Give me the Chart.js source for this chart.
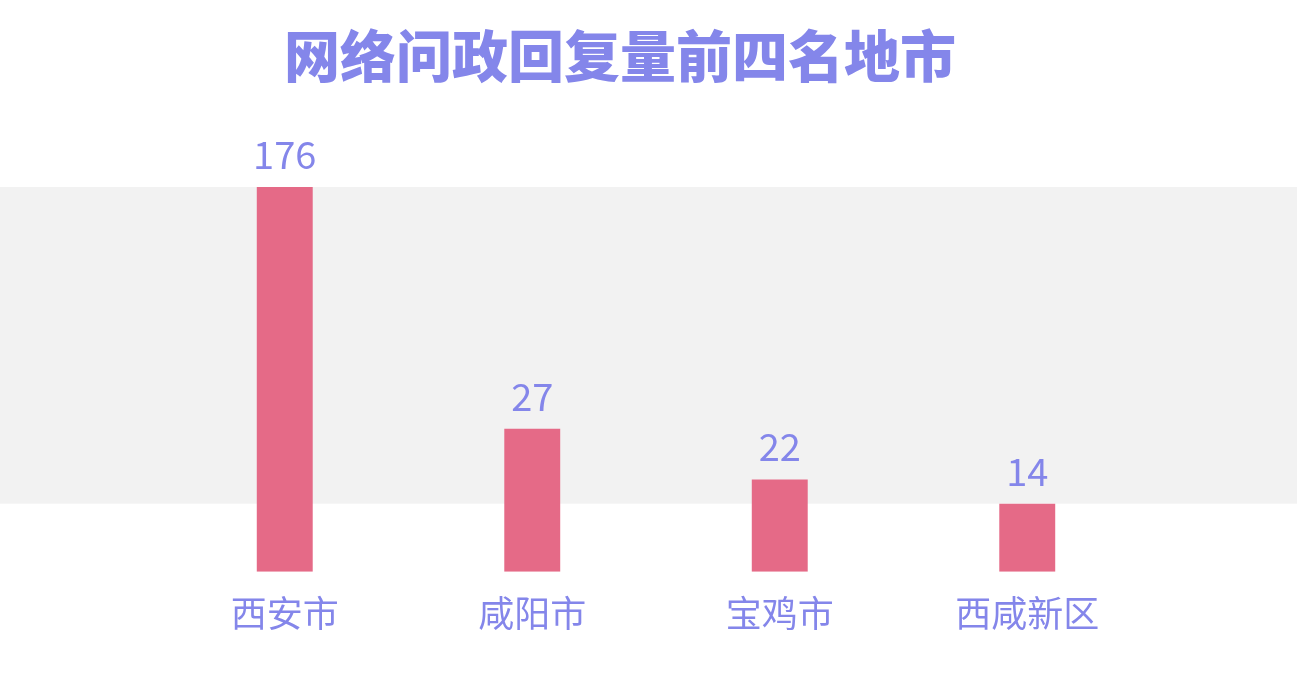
<!DOCTYPE html>
<html>
<head>
<meta charset="utf-8">
<script src="https://cdn.jsdelivr.net/npm/chart.js@4.4.1/dist/chart.umd.min.js"></script>
<style>
html,body{margin:0;padding:0;background:#fff;}
#wrap{width:1297px;height:683px;position:relative;}
</style>
</head>
<body>
<div id="wrap"><canvas id="c" width="1297" height="683"></canvas></div>
<script>
const titleText = '网络问政回复量前四名地市';
const categories = ['西安市', '咸阳市', '宝鸡市', '西咸新区'];
const values = [176, 27, 22, 14];
// relative bar lengths as drawn in the picture (bars are not drawn to scale)
const barLengths = [100, 37.2, 24.0, 17.7];

const TEXT = '#8486ea';
const BAR = '#e56a87';
const BAND = '#f2f2f2';
const FONT = '"Noto Sans CJK SC", "Noto Sans", sans-serif';

const bgBand = {
  id: 'bgBand',
  beforeDraw(chart) {
    const ctx = chart.ctx, y = chart.scales.y;
    const top = y.getPixelForValue(Math.max(...barLengths));
    const bot = y.getPixelForValue(Math.min(...barLengths));
    ctx.save();
    ctx.fillStyle = BAND;
    ctx.fillRect(0, top, chart.width, bot - top);
    ctx.restore();
  }
};

const customTitle = {
  id: 'customTitle',
  afterDraw(chart) {
    const ctx = chart.ctx;
    ctx.save();
    ctx.font = '900 56px ' + FONT;
    ctx.fillStyle = TEXT;
    ctx.textAlign = 'center';
    ctx.textBaseline = 'alphabetic';
    ctx.fillText(titleText, 620, 77);
    ctx.restore();
  }
};

const valueLabels = {
  id: 'valueLabels',
  afterDatasetsDraw(chart) {
    const ctx = chart.ctx;
    const meta = chart.getDatasetMeta(0);
    ctx.save();
    ctx.font = '38px ' + FONT;
    ctx.fillStyle = TEXT;
    ctx.textAlign = 'center';
    ctx.textBaseline = 'alphabetic';
    meta.data.forEach((bar, i) => {
      ctx.fillText(String(values[i]), bar.x, bar.y - 18);
    });
    ctx.restore();
  }
};

new Chart(document.getElementById('c'), {
  type: 'bar',
  data: {
    labels: categories,
    datasets: [{
      data: barLengths,
      backgroundColor: BAR,
      borderWidth: 0,
      barPercentage: 0.226,
      categoryPercentage: 1.0
    }]
  },
  options: {
    responsive: false,
    animation: false,
    devicePixelRatio: 1,
    layout: { padding: { left: 161, right: 146, top: 187, bottom: 36 } },
    plugins: {
      legend: { display: false },
      title: { display: false },
      tooltip: { enabled: false }
    },
    scales: {
      x: {
        grid: { display: false },
        border: { display: false },
        ticks: { color: TEXT, font: { family: FONT, size: 36 }, padding: 12 }
      },
      y: {
        display: false,
        min: 0,
        max: 100
      }
    }
  },
  plugins: [bgBand, valueLabels, customTitle]
});
</script>
</body>
</html>
